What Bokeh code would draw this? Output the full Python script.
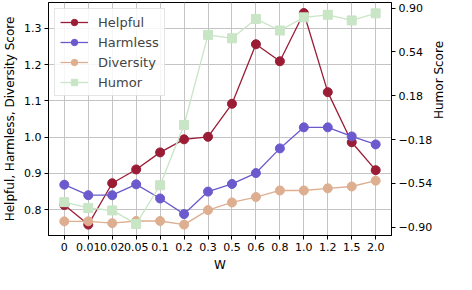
import math
from bokeh.plotting import figure
from bokeh.models import FactorRange, Range1d, LinearAxis, FixedTicker, Legend, LegendItem, ColumnDataSource
from bokeh.embed import file_html
from bokeh.resources import INLINE

w_values = ["0", "0.01", "0.02", "0.05", "0.1", "0.2", "0.3", "0.5", "0.6", "0.8", "1.0", "1.2", "1.5", "2.0"]
helpful = [0.813, 0.759, 0.873, 0.911, 0.958, 0.994, 1.001, 1.092, 1.256, 1.209, 1.342, 1.124, 0.986, 0.909]
harmless = [0.869, 0.840, 0.840, 0.870, 0.831, 0.788, 0.850, 0.871, 0.901, 0.969, 1.027, 1.027, 1.002, 0.980]
diversity = [0.768, 0.768, 0.763, 0.769, 0.769, 0.759, 0.799, 0.820, 0.835, 0.853, 0.853, 0.859, 0.864, 0.880]
humor = [-0.694, -0.742, -0.762, -0.873, -0.555, -0.060, 0.680, 0.652, 0.811, 0.716, 0.824, 0.845, 0.799, 0.857]

left_ticks = [0.8, 0.9, 1.0, 1.1, 1.2, 1.3]
right_ticks = [-0.90, -0.54, -0.18, 0.18, 0.54, 0.90]

FONT = "DejaVu Sans"
C_HELP = "#9a1d35"
C_HARM = "#6a5acd"
C_DIV = "#deae90"
C_HUM = "#c8e5c5"

src = ColumnDataSource(dict(w=w_values, helpful=helpful, harmless=harmless,
                            diversity=diversity, humor=humor))

p = figure(width=456, height=274, output_backend="svg", toolbar_location=None,
           x_range=FactorRange(*w_values, range_padding=0.16, range_padding_units="absolute"),
           y_range=Range1d(0.729, 1.371),
           min_border_left=0, min_border_right=0, min_border_top=2, min_border_bottom=0)
p.extra_y_ranges = {"humor": Range1d(-0.968, 0.946)}

p.outline_line_color = "black"
p.outline_line_width = 1
p.outline_line_alpha = 1

for g in (p.xgrid, p.ygrid):
    g.grid_line_color = "#c4c4c4"
    g.grid_line_width = 1

# Left axis
ax = p.yaxis[0]
ax.ticker = FixedTicker(ticks=left_ticks)
ax.major_label_overrides = {t: f"{t:.1f}" for t in left_ticks}
ax.axis_label = "Helpful, Harmless, Diversity Score"

# Right axis
rax = LinearAxis(y_range_name="humor", axis_label="Humor Score")
rax.ticker = FixedTicker(ticks=right_ticks)
rax.major_label_overrides = {t: f"{t:.2f}".replace("-", "\u2212") for t in right_ticks}
rax.axis_label_orientation = math.pi / 2
p.add_layout(rax, "right")

p.xaxis.axis_label = "W"

for a in p.xaxis + p.yaxis:
    a.axis_label_text_font = FONT
    a.axis_label_text_font_size = "12px"
    a.axis_label_text_font_style = "normal"
    a.axis_label_text_color = "black"
    a.axis_label_standoff = 4
    a.major_label_text_font = FONT
    a.major_label_text_font_size = "11px"
    a.major_label_text_color = "black"
    a.major_tick_in = 0
    a.major_tick_out = 4
    a.minor_tick_in = 0
    a.minor_tick_out = 0
    a.axis_line_color = "black"
    a.major_tick_line_color = "black"
    a.major_label_standoff = 3
p.xaxis.major_label_orientation = "horizontal"

r1 = p.line("w", "helpful", source=src, color=C_HELP, line_width=1.3)
s1 = p.scatter("w", "helpful", source=src, color=C_HELP, size=9, marker="circle")
r2 = p.line("w", "harmless", source=src, color=C_HARM, line_width=1.3)
s2 = p.scatter("w", "harmless", source=src, color=C_HARM, size=9, marker="circle")
r3 = p.line("w", "diversity", source=src, color=C_DIV, line_width=1.3)
s3 = p.scatter("w", "diversity", source=src, color=C_DIV, size=9, marker="circle")
r4 = p.line("w", "humor", source=src, color=C_HUM, line_width=1.3, y_range_name="humor")
s4 = p.scatter("w", "humor", source=src, color=C_HUM, size=9, marker="square", y_range_name="humor")

legend = Legend(items=[
    LegendItem(label="Helpful", renderers=[r1, s1]),
    LegendItem(label="Harmless", renderers=[r2, s2]),
    LegendItem(label="Diversity", renderers=[r3, s3]),
    LegendItem(label="Humor", renderers=[r4, s4]),
], location="top_left")
legend.label_text_font = FONT
legend.label_text_font_size = "13px"
legend.glyph_width = 28
legend.glyph_height = 16
legend.spacing = 4
legend.padding = 5
legend.margin = 6
legend.label_standoff = 10
legend.border_line_color = "#cccccc"
legend.background_fill_alpha = 0.85
p.add_layout(legend)

open("out.html", "w").write(file_html(p, INLINE))
